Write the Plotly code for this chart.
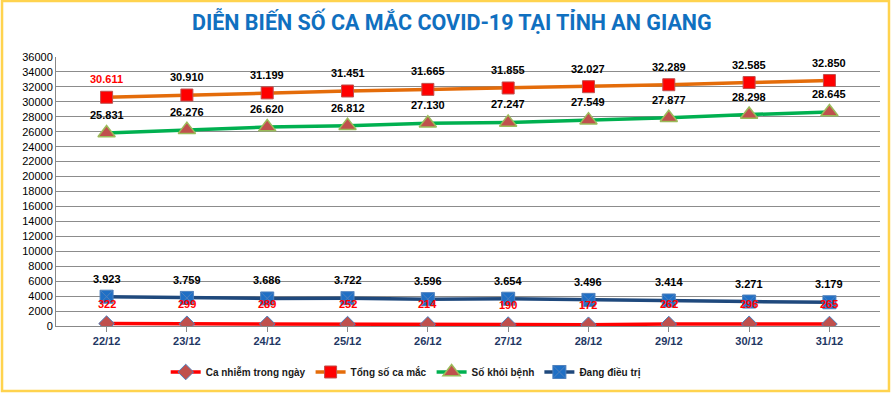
import plotly.graph_objects as go

categories = ["22/12", "23/12", "24/12", "25/12", "26/12", "27/12", "28/12", "29/12", "30/12", "31/12"]
daily = [322, 299, 289, 252, 214, 190, 172, 262, 296, 265]
total = [30611, 30910, 31199, 31451, 31665, 31855, 32027, 32289, 32585, 32850]
recovered = [25831, 26276, 26620, 26812, 27130, 27247, 27549, 27877, 28298, 28645]
treating = [3923, 3759, 3686, 3722, 3596, 3654, 3496, 3414, 3271, 3179]

names = ["Ca nhiễm trong ngày", "Tổng số ca mắc", "Số khỏi bệnh", "Đang điều trị"]

fig = go.Figure()
fig.add_trace(go.Scatter(x=categories, y=daily, name=names[0], mode="lines+markers",
                         line=dict(color="#FF0000", width=3.5),
                         marker=dict(symbol="diamond", size=12, color="#C0504D",
                                     line=dict(color="#4F81BD", width=1))))
fig.add_trace(go.Scatter(x=categories, y=total, name=names[1], mode="lines+markers",
                         line=dict(color="#E46C0A", width=3.5),
                         marker=dict(symbol="square", size=12, color="#FF0000",
                                     line=dict(color="#C0504D", width=1))))
fig.add_trace(go.Scatter(x=categories, y=recovered, name=names[2], mode="lines+markers",
                         line=dict(color="#00B050", width=3.5),
                         marker=dict(symbol="triangle-up", size=15, color="#C0504D",
                                     line=dict(color="#9BBB59", width=1.5))))
fig.add_trace(go.Scatter(x=categories, y=treating, name=names[3], mode="lines+markers",
                         line=dict(color="#1F497D", width=3.5),
                         marker=dict(symbol="square-x", size=13, color="#1F6FC5",
                                     line=dict(color="#4F81BD", width=1))))

def fmt(v):
    return f"{v:,}".replace(",", ".")

annotations = []
series_labels = [
    (daily, 20, ["#FF0000"] * len(daily)),
    (total, 18, ["#FF0000"] + ["#000000"] * (len(total) - 1)),
    (recovered, 18, ["#000000"] * len(recovered)),
    (treating, 18, ["#000000"] * len(treating)),
]
for vals, shift, cols in series_labels:
    for c, v, col in zip(categories, vals, cols):
        annotations.append(dict(x=c, y=v, xref="x", yref="y", text="<b>" + fmt(v) + "</b>", showarrow=False,
                                yshift=shift, font=dict(family="Liberation Sans, Arial", size=11, color=col)))

annotations.append(dict(x=0.48, y=1.134, xref="paper", yref="paper", yanchor="middle", xanchor="center",
                        text="<b>DIỄN BIẾN SỐ CA MẮC COVID-19 TẠI TỈNH AN GIANG</b>", showarrow=False,
                        font=dict(family="Roboto", size=21.5, color="#1070C0")))

fig.update_layout(
    width=896, height=393,
    margin=dict(l=56, r=16, t=57, b=67, autoexpand=False),
    paper_bgcolor="white", plot_bgcolor="white",
    showlegend=True,
    legend=dict(orientation="h", x=0.425, xanchor="center", y=-0.171, yanchor="middle",
                font=dict(family="Liberation Sans, Arial", size=10, color="#1a1a1a", weight="bold"),
                itemwidth=30, tracegroupgap=0),
    annotations=annotations,
    shapes=[dict(type="rect", xref="paper", yref="paper", x0=-0.0655, x1=1.0109, y0=-0.2416, y1=1.208,
                 line=dict(color="#FFD34E", width=2.5), layer="below")],
)
fig.update_xaxes(showgrid=False, showline=True, linecolor="#888888", linewidth=1,
                 tickfont=dict(family="Liberation Sans, Arial", size=11, color="#1F3864", weight="bold"),
                 ticks="outside", ticklen=5, tickcolor="#888888", tickson="labels")
fig.update_yaxes(range=[0, 36000], dtick=2000, showgrid=True, gridcolor="#8C8C8C", gridwidth=1,
                 showline=True, linecolor="#888888", zeroline=False, tickformat="d",
                 tickfont=dict(family="Liberation Sans, Arial", size=11, color="#000000"))

fig.write_html("out.html", config={"displayModeBar": False},
               post_script="document.body.style.margin='0px';")
